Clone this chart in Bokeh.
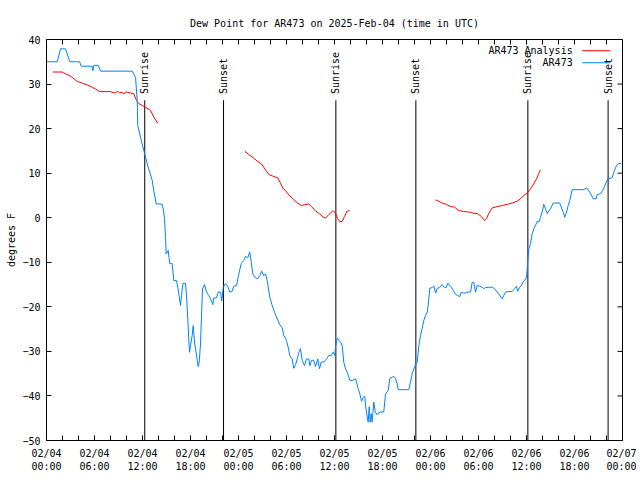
import numpy as np
import pandas as pd
from bokeh.plotting import figure
from bokeh.models import Range1d, FixedTicker, DatetimeTickFormatter, Title
from bokeh.core.properties import value
from bokeh.embed import file_html
from bokeh.resources import INLINE

# ---------------- data ----------------
start_time = "2025-02-04 00:00"
span_hours = 72
y_min, y_max = -50, 40
y_ticks = [-50, -40, -30, -20, -10, 0, 10, 20, 30, 40]

# observed dew point (AR473): hours after 02/04 00:00 UTC, degrees F
obs_hours = [0.0, 1.34, 1.75, 2.38, 2.91, 4.13, 4.34, 5.71, 5.79, 5.92,
             6.46, 6.75, 10.71, 11.13, 11.34, 11.41, 11.75, 12.16, 12.59, 13.21,
             13.41, 13.71, 14.04, 14.46, 14.59, 14.75, 14.88, 14.96, 15.21, 15.41,
             15.71, 15.91, 16.25, 16.41, 16.54, 16.75, 16.88, 17.04, 17.38, 17.5,
             17.66, 17.79, 17.88, 18.0, 18.21, 18.34, 18.5, 18.66, 18.84, 18.96,
             19.09, 19.25, 19.38, 19.5, 19.75, 20.0, 20.29, 20.5, 20.79, 20.91,
             21.25, 21.46, 21.75, 21.91, 22.09, 22.38, 22.66, 22.91, 23.21, 23.41,
             23.75, 24.04, 24.34, 24.66, 24.88, 25.16, 25.41, 25.59, 25.79, 26.13,
             26.41, 26.66, 26.91, 27.16, 27.38, 27.59, 27.91, 28.21, 28.5, 28.84,
             29.16, 29.46, 29.66, 29.96, 30.21, 30.41, 30.71, 30.91, 31.13, 31.34,
             31.54, 31.75, 31.96, 32.25, 32.5, 32.79, 32.91, 33.13, 33.41, 33.63,
             33.91, 34.13, 34.34, 34.66, 35.0, 35.29, 35.59, 35.84, 36.04, 36.13,
             36.34, 36.54, 36.75, 36.96, 37.16, 37.38, 37.66, 37.91, 38.29, 38.63,
             38.75, 38.96, 39.16, 39.38, 39.59, 39.79, 39.91, 40.09, 40.21, 40.34,
             40.46, 40.59, 40.71, 40.91, 41.09, 41.34, 41.63, 42.16, 42.38, 42.71,
             42.91, 43.21, 43.41, 43.63, 43.84, 43.96, 45.29, 45.5, 45.71, 46.0,
             46.34, 46.54, 46.75, 46.96, 47.16, 47.38, 47.59, 47.71, 47.91, 48.21,
             48.41, 48.66, 48.84, 49.16, 49.46, 49.75, 49.96, 50.16, 50.5, 50.84,
             51.13, 51.41, 51.66, 51.84, 52.09, 52.38, 52.71, 53.0, 53.21, 53.41,
             53.63, 53.84, 54.16, 54.46, 54.66, 54.88, 55.29, 55.71, 56.0, 56.34,
             56.66, 56.96, 57.16, 57.38, 57.79, 58.21, 58.54, 58.75, 58.91, 59.16,
             59.38, 59.59, 59.79, 60.0, 60.09, 60.16, 60.29, 60.5, 60.71, 60.91,
             61.13, 61.34, 61.54, 61.75, 61.96, 62.16, 62.38, 62.59, 62.79, 63.0,
             63.34, 64.16, 64.34, 64.59, 64.79, 65.0, 65.21, 65.41, 65.71, 67.16,
             67.5, 67.79, 68.09, 68.34, 68.71, 68.84, 69.25, 69.59, 69.88, 70.16,
             70.71, 70.91, 71.25, 71.54, 71.84]
obs_dewpt = [35.0, 35.0, 37.9, 37.9, 35.0, 35.0, 34.0, 34.0, 33.0, 34.2,
             34.2, 32.9, 32.9, 31.5, 26.3, 20.7, 18.1, 15.1, 12.1, 8.4,
             6.1, 3.1, 3.1, 3.0, 2.0, -0.2, -4.4, -8.1, -7.35, -10.3,
             -10.3, -14.1, -14.1, -15.6, -17.1, -19.7, -17.45, -14.8, -14.8, -17.45,
             -22.7, -27.5, -30.2, -28.7, -26.4, -24.2, -27.9, -29.8, -32.0, -33.4,
             -32.4, -28.3, -21.9, -16.0, -15.0, -16.7, -17.45, -18.2, -19.5, -18.0,
             -18.0, -16.7, -16.7, -18.7, -15.6, -14.8, -15.4, -16.7, -16.5, -15.4,
             -15.2, -12.6, -10.3, -9.6, -8.7, -9.0, -7.7, -10.0, -12.6, -13.5,
             -13.7, -13.0, -12.0, -13.0, -12.6, -14.1, -17.8, -19.7, -21.2, -22.7,
             -24.0, -24.7, -26.4, -27.4, -29.05, -30.9, -31.7, -33.8, -33.0, -31.7,
             -30.2, -29.4, -32.0, -33.2, -31.7, -31.7, -33.2, -32.0, -32.0, -33.4,
             -31.7, -33.9, -32.4, -32.4, -31.7, -30.9, -30.9, -30.2, -30.9, -28.9,
             -27.0, -27.5, -27.9, -28.7, -32.4, -33.9, -35.0, -36.5, -36.5, -36.1,
             -36.9, -38.4, -39.5, -41.2, -40.3, -40.1, -42.5, -44.8, -45.9, -42.4,
             -45.9, -44.0, -45.9, -41.4, -43.6, -44.2, -43.6, -43.6, -39.5, -38.8,
             -36.1, -35.8, -35.6, -36.1, -37.3, -38.6, -38.6, -36.9, -35.0, -33.5,
             -32.4, -28.7, -26.4, -24.9, -23.1, -21.9, -21.2, -19.7, -15.8, -15.7,
             -15.3, -16.9, -15.9, -15.6, -15.0, -15.7, -15.7, -14.7, -15.4, -16.3,
             -17.2, -17.45, -17.7, -16.7, -16.9, -16.9, -16.7, -16.7, -14.5, -14.5,
             -16.7, -15.2, -15.4, -15.6, -15.9, -15.7, -15.6, -15.6, -15.9, -16.7,
             -17.45, -18.2, -17.45, -16.7, -16.55, -16.55, -15.9, -15.4, -16.5, -15.6,
             -15.2, -14.3, -14.1, -13.3, -11.5, -9.6, -7.0, -5.85, -3.6, -2.5,
             -1.7, -0.8, -1.0, 0.1, 1.25, 3.0, 2.0, 0.9, 1.5, 2.0,
             3.3, 3.3, 2.4, 1.25, 0.1, 1.25, 2.75, 3.9, 6.3, 6.3,
             6.7, 6.0, 5.2, 4.25, 4.25, 5.2, 5.4, 6.3, 7.6, 8.7,
             9.0, 10.2, 11.7, 12.2, 12.1]

# analysis dew point (AR473 Analysis), three runs
ana1_hours = [0.79, 1.96, 2.38, 3.0, 3.41, 3.84, 4.46, 5.09, 5.71, 6.13,
              6.54, 6.96, 8.0, 8.34, 8.63, 8.84, 9.13, 9.46, 9.66, 10.0,
              10.5, 10.91, 11.25, 11.54, 11.96, 12.38, 13.0, 13.41, 13.91]
ana1_dewpt = [32.7, 32.7, 32.3, 31.8, 31.2, 30.6, 30.2, 29.8, 29.3, 28.9,
              28.4, 28.3, 28.3, 28.1, 28.0, 28.4, 28.1, 28.1, 27.8, 28.2,
              28.0, 27.8, 26.3, 25.6, 25.2, 24.8, 24.1, 22.6, 21.2]
ana2_hours = [24.79, 25.29, 25.84, 26.34, 26.84, 27.16, 27.5, 27.79, 28.34, 28.91,
              29.25, 29.59, 29.88, 30.16, 30.59, 30.91, 31.34, 31.84, 32.25, 32.79,
              33.13, 33.63, 34.13, 34.46, 34.88, 35.29, 35.84, 36.13, 36.41, 36.66,
              36.96, 37.25, 37.59, 37.88]
ana2_dewpt = [14.9, 14.2, 13.45, 12.7, 12.1, 11.35, 10.4, 9.7, 9.3, 8.95,
              7.75, 6.5, 6.1, 5.4, 4.6, 4.1, 3.35, 2.75, 2.9, 3.1,
              2.5, 1.5, 0.9, 0.3, -0.1, 0.7, 1.6, 1.0, -0.25, -0.85,
              -0.85, 0.3, 1.5, 1.6]
ana3_hours = [48.63, 49.04, 49.46, 50.0, 50.5, 51.0, 51.54, 52.16, 52.91, 53.41,
              53.91, 54.34, 54.75, 55.0, 55.29, 55.71, 56.34, 56.96, 57.59, 58.21,
              58.84, 59.25, 59.66, 60.09, 60.5, 60.91, 61.25, 61.54, 61.75]
ana3_dewpt = [4.0, 3.7, 3.3, 3.0, 2.5, 2.4, 1.6, 1.4, 1.25, 1.0,
              0.9, 0.3, -0.6, -0.25, 1.0, 2.2, 2.5, 2.75, 3.0, 3.3,
              3.7, 4.25, 5.0, 5.5, 6.5, 7.6, 8.7, 10.0, 10.75]

sun_hours = [12.28, 22.13, 36.17, 46.17, 60.17, 70.2]
sun_labels = ["Sunrise", "Sunset", "Sunrise", "Sunset", "Sunrise", "Sunset"]

x_major_hours = list(range(0, 73, 6))
x_minor_hours = list(range(0, 73, 2))

series_names = ["AR473 Analysis", "AR473"]
series_colors = ["#ff0000", "#0080ff"]

# ---------------- helpers ----------------
t0 = pd.Timestamp(start_time).value / 1e6  # ms
H = 3600000.0

def to_ms(hours):
    return [t0 + h * H for h in hours]

ana_x, ana_y = [], []
for hs, vs in [(ana1_hours, ana1_dewpt), (ana2_hours, ana2_dewpt), (ana3_hours, ana3_dewpt)]:
    if ana_x:
        ana_x.append(np.nan)
        ana_y.append(np.nan)
    ana_x += to_ms(hs)
    ana_y += vs

FONT = "DejaVu Sans Mono"
FS = "10px"

x0, x1 = t0, t0 + span_hours * H
p = figure(width=636, height=476,
           x_axis_type="datetime", output_backend="svg", toolbar_location=None,
           x_range=Range1d(x0, x1), y_range=Range1d(y_min, y_max),
           min_border_left=46, min_border_right=14, min_border_top=39,
           min_border_bottom=36)
p.background_fill_color = "white"
p.border_fill_color = "white"
p.outline_line_color = "black"
p.outline_line_alpha = 1.0
p.outline_line_width = 1
p.xgrid.visible = False
p.ygrid.visible = False

p.title = Title(text="Dew Point for AR473 on 2025-Feb-04 (time in UTC)",
                align="center", text_font=FONT, text_font_size=FS,
                text_font_style="normal", text_color="black", standoff=21)

fmt = "%m/%d\n%H:%M"
xt = FixedTicker(ticks=to_ms(x_major_hours), minor_ticks=to_ms(x_minor_hours))
yt = FixedTicker(ticks=y_ticks, minor_ticks=[])

def style_axis(ax):
    ax.axis_line_color = None
    ax.major_tick_in = 5
    ax.major_tick_out = 0
    ax.minor_tick_in = 5
    ax.minor_tick_out = 0
    ax.major_tick_line_color = "black"
    ax.minor_tick_line_color = "black"
    ax.major_label_text_font = FONT
    ax.major_label_text_font_size = FS
    ax.major_label_text_color = "black"

xa = p.xaxis[0]
xa.ticker = xt
xa.formatter = DatetimeTickFormatter(hours=fmt, days=fmt, hourmin=fmt, minutes=fmt,
                                     months=fmt, years=fmt)
style_axis(xa)
xa.major_label_standoff = 7

ya = p.yaxis[0]
ya.ticker = yt
style_axis(ya)
ya.minor_tick_in = 0
ya.major_label_standoff = 6
ya.axis_label = "degrees F"
ya.axis_label_text_font = FONT
ya.axis_label_text_font_size = FS
ya.axis_label_text_font_style = "normal"
ya.axis_label_text_color = "black"
ya.axis_label_standoff = 2

# mirrored inward ticks on the top and right edges (half of each dash is clipped)
p.scatter(x=to_ms(x_minor_hours), y=[y_max] * len(x_minor_hours), marker="dash",
          angle=np.pi / 2, size=10, line_color="black", line_width=1)
p.scatter(x=[x1] * len(y_ticks), y=y_ticks, marker="dash", size=10,
          line_color="black", line_width=1)

# sunrise / sunset markers
sun_x = to_ms(sun_hours)
label_v = y_max - 0.136 * (y_max - y_min)
line_top = label_v - 1.4
p.segment(x0=sun_x, y0=[y_min] * len(sun_x), x1=sun_x, y1=[line_top] * len(sun_x),
          line_color="black", line_width=1)

# data lines
p.line(ana_x, ana_y, line_color=series_colors[0], line_width=1)
p.line(to_ms(obs_hours), obs_dewpt, line_color=series_colors[1], line_width=1)

p.text(x=sun_x, y=[label_v] * len(sun_x), text=sun_labels, angle=np.pi / 2,
       text_align="left", text_baseline="middle", text_font=value(FONT),
       text_font_size=FS, text_color="black")

# gnuplot-style key (label, then sample line), top right
key_text_x = x0 + 0.9135 * (x1 - x0)
key_line_x0 = x0 + 0.930 * (x1 - x0)
key_line_x1 = x0 + 0.979 * (x1 - x0)
key_rows = [y_max - 0.028 * (y_max - y_min), y_max - 0.058 * (y_max - y_min)]
p.text(x=[key_text_x] * 2, y=key_rows, text=series_names, text_align="right",
       text_baseline="middle", text_font=value(FONT), text_font_size=FS,
       text_color="black")
p.segment(x0=[key_line_x0] * 2, y0=key_rows, x1=[key_line_x1] * 2, y1=key_rows,
          line_color=series_colors, line_width=1)

open("out.html", "w").write(file_html(p, INLINE))
